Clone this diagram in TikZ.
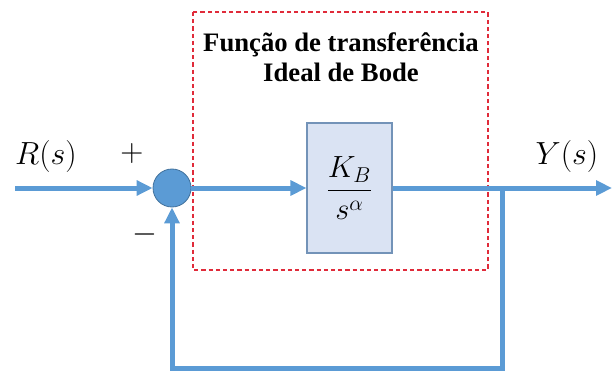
\RequirePackage{fix-cm}
\documentclass[tikz,border=0pt]{standalone}
\usepackage{amsmath}
\usepackage{fontspec}
\setmainfont{Liberation Serif}
\usepackage{xcolor}
\usepackage{tikz}
\usetikzlibrary{arrows.meta,positioning}

\definecolor{sigblue}{HTML}{5B9BD5}
\definecolor{sumedge}{HTML}{41719C}
\definecolor{blockfill}{HTML}{DAE3F3}
\definecolor{blockedge}{HTML}{7393B8}
\definecolor{boxred}{HTML}{E02B3A}

\begin{document}
\begin{tikzpicture}[x=0.75pt,y=-0.75pt,>={Triangle[length=12pt,width=11pt]},
    signal/.style={sigblue,line width=3.75pt},
    sumnode/.style={circle,fill=sigblue,draw=sumedge,line width=0.6pt,
      minimum size=28.5pt,inner sep=0pt},
    plantbox/.style={rectangle,fill=blockfill,draw=blockedge,line width=0.8pt,
      minimum width=63.75pt,minimum height=97.5pt,inner sep=0pt},
    tfbox/.style={boxred,line width=1pt,dash pattern=on 3.2pt off 2.2pt},
    sigtext/.style={font=\fontsize{24}{28}\selectfont},
    titletext/.style={align=center,font=\bfseries\fontsize{20}{22.5}\selectfont}]
  \useasboundingbox (0,0) rectangle (613,374);

  % dashed frame of the ideal transfer function
  \draw[tfbox] (193,12) rectangle (488,270);
  \node[titletext] (title) at (341,57) {Função de transferência\\Ideal de Bode};

  \node[sumnode] (sum) at (172,188) {};
  \node[plantbox] (plant) at (349.5,188)
    {\fontsize{23}{27}\selectfont$\dfrac{K_B}{s^{\alpha}}$};

  \coordinate (in) at (15,188);
  \coordinate (out) at (612,188);
  \coordinate (branch) at (502,188);
  \coordinate (back) at (502,368);

  \draw[signal,->] (in) -- (sum);
  \draw[signal,->] (sum) -- (plant);
  \draw[signal,->] (plant) -- (out);
  \draw[signal,->] (branch) -- (back) -| (sum.south);

  \node[sigtext] (rlabel) at (46,157) {$R(s)$};
  \node[sigtext] (ylabel) at (567,157) {$Y(s)$};
  \node[sigtext] (plus) at (132,154) {$+$};
  \node[sigtext] (minus) at (145,234) {$-$};
\end{tikzpicture}
\end{document}
